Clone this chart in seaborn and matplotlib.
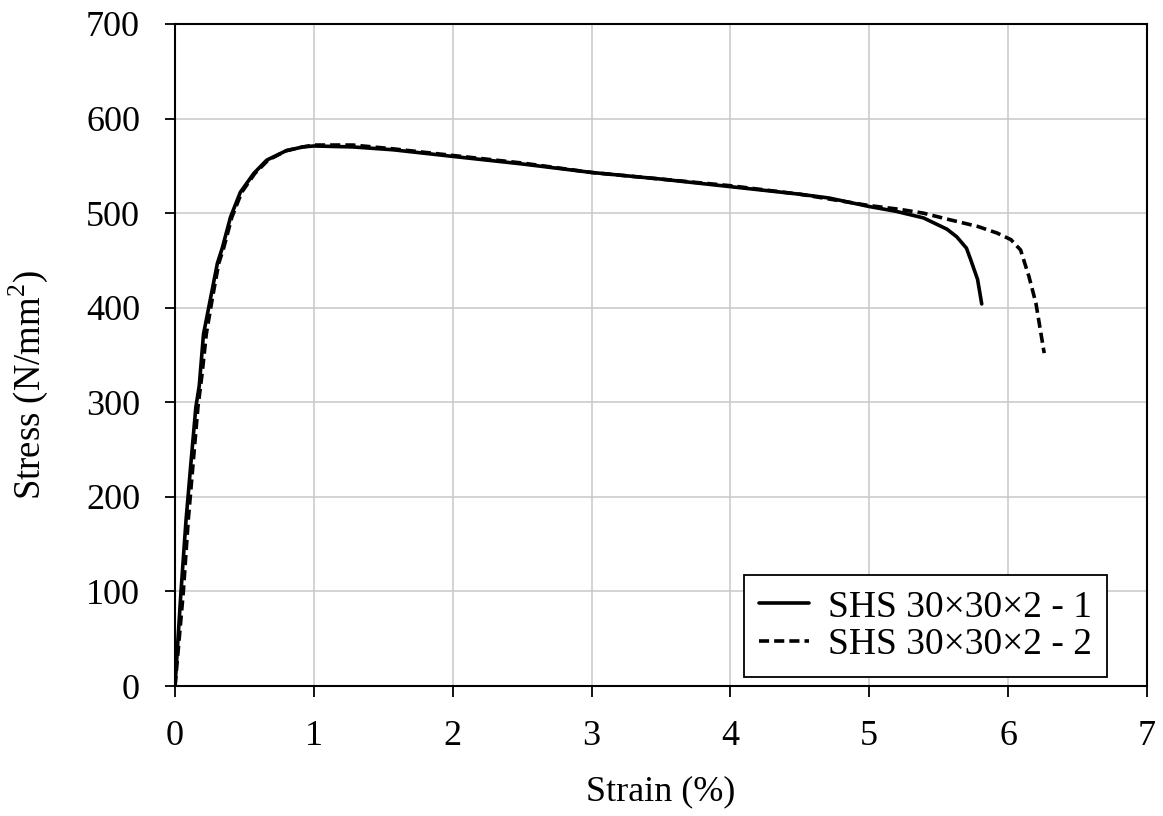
import matplotlib
matplotlib.use("Agg")
import matplotlib.pyplot as plt
import seaborn as sns
import pandas as pd

strain_1 = [0, 0.043, 0.079, 0.114, 0.15, 0.174, 0.205, 0.257, 0.305, 0.34, 0.40, 0.47, 0.567,
            0.66, 0.80, 0.92, 1.0, 1.28, 1.57, 2.0, 2.5, 3.0, 3.5, 4.0, 4.5, 4.71, 5.0, 5.19,
            5.39, 5.56, 5.63, 5.70, 5.73, 5.78, 5.81]
stress_1 = [0, 100, 175, 235, 295, 317, 372, 411, 447, 463, 496, 522, 542,
            556, 566, 570, 571, 570, 567, 560, 552, 543, 536, 528, 520, 516, 507, 502,
            495, 483, 475, 463, 451, 430, 404]

strain_2 = [0, 0.06, 0.095, 0.13, 0.165, 0.195, 0.225, 0.27, 0.315, 0.35, 0.41, 0.48, 0.575,
            0.67, 0.80, 0.92, 1.0, 1.28, 1.57, 2.0, 2.5, 3.0, 3.5, 4.0, 4.5, 5.0, 5.22,
            5.39, 5.58, 5.78, 5.92, 6.02, 6.09, 6.15, 6.20, 6.26]
stress_2 = [0, 100, 175, 235, 295, 330, 372, 411, 447, 463, 496, 522, 542,
            556, 566, 570, 572, 572, 568, 561, 553, 543, 536, 529, 520, 508, 504,
            500, 493, 486, 479, 472, 461, 433, 405, 352]

label_1 = "SHS 30×30×2 - 1"
label_2 = "SHS 30×30×2 - 2"
x_ticks = [0, 1, 2, 3, 4, 5, 6, 7]
y_ticks = [0, 100, 200, 300, 400, 500, 600, 700]

sns.set_theme(style="white")
plt.rcParams['font.family'] = ['Liberation Serif', 'DejaVu Serif']
plt.rcParams['mathtext.fontset'] = 'custom'
plt.rcParams['mathtext.rm'] = 'Liberation Serif'
for k in ['text.color', 'axes.labelcolor', 'xtick.color', 'ytick.color']:
    plt.rcParams[k] = 'black'

fig = plt.figure(figsize=(11.63, 8.16), dpi=100)
ax = fig.add_axes([0.1505, 0.1593, 0.8357, 0.8113])

df1 = pd.DataFrame({"strain": strain_1, "stress": stress_1})
df2 = pd.DataFrame({"strain": strain_2, "stress": stress_2})

sns.lineplot(data=df1, x="strain", y="stress", sort=False, estimator=None, ax=ax,
             color="black", linewidth=2.6, label=label_1)
sns.lineplot(data=df2, x="strain", y="stress", sort=False, estimator=None, ax=ax,
             color="black", linewidth=2.6, label=label_2)
ax.lines[1].set_dashes([2.8, 1.4])

ax.set_xlim(0, 7)
ax.set_ylim(0, 700)
ax.set_xticks(x_ticks)
ax.set_yticks(y_ticks)
ax.grid(True, color="#c8c8c8", linewidth=1.1)
ax.set_axisbelow(True)
for s in ["left", "bottom", "top", "right"]:
    ax.spines[s].set_visible(True)
    ax.spines[s].set_color("black")
    ax.spines[s].set_linewidth(1.5)
ax.tick_params(axis="y", which="major", direction="out", length=7.2, width=1.3,
               color="black", labelsize=26, pad=18, left=True)
ax.tick_params(axis="x", which="major", direction="out", length=8, width=1.3,
               color="black", labelsize=26, pad=16.5, bottom=True)
ax.set_xlabel("Strain (%)", fontsize=26, labelpad=16)
ax.set_ylabel("Stress (N/mm$^2$)", fontsize=26.5)
ax.yaxis.set_label_coords(-0.1286, 0.4547)

leg = ax.legend(loc="lower right", fontsize=27, frameon=True, fancybox=False,
                edgecolor="black", framealpha=1, borderpad=0.4, handlelength=1.35,
                handletextpad=0.5, labelspacing=0.08, borderaxespad=0,
                bbox_to_anchor=(0.9588, 0.0136))
leg.get_frame().set_linewidth(1.3)

fig.savefig("out.png", dpi=100)
